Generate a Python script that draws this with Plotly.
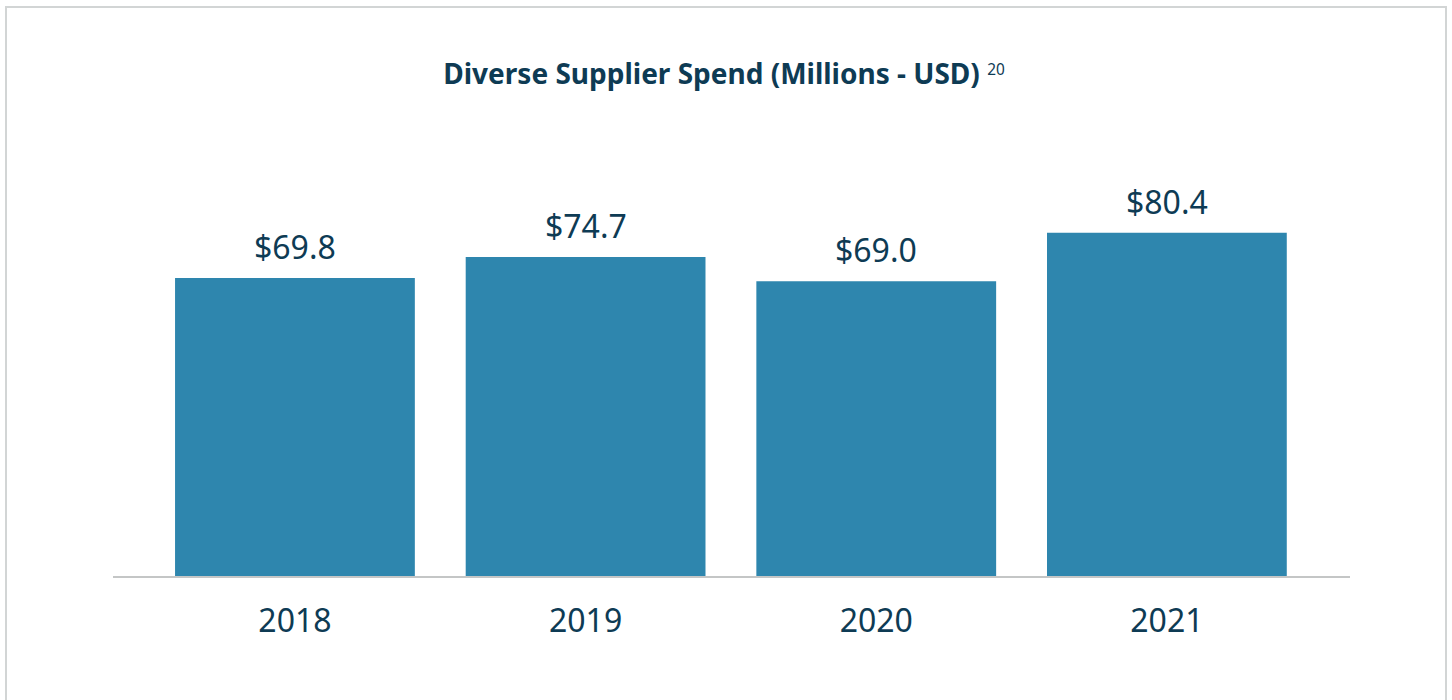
import plotly.graph_objects as go

years = ["2018", "2019", "2020", "2021"]
spend = [69.8, 74.7, 69.0, 80.4]
labels = ["$69.8", "$74.7", "$69.0", "$80.4"]

TEXT = "#0e3b54"
BAR = "#2e86ae"
FONT = "Noto Sans"

W, H = 1452, 700
L, R, T, B = 113, 102, 100, 124

fig = go.Figure()
fig.add_trace(go.Bar(
    x=years, y=spend,
    marker=dict(color=BAR, line=dict(width=0)),
    hoverinfo="skip",
))

for i, (v, lab) in enumerate(zip(spend, labels)):
    fig.add_annotation(x=i, y=v, text=lab, showarrow=False,
                       xanchor="center", yanchor="bottom", yshift=8,
                       font=dict(family=FONT, size=32, color=TEXT))

pw = W - L - R
def px_to_paper_x(p):
    return (p - L) / pw
ph = H - T - B
def px_to_paper_y(p):
    return (H - B - p) / ph

fig.add_shape(type="rect", xref="paper", yref="paper",
              x0=px_to_paper_x(6), x1=px_to_paper_x(1446),
              y0=px_to_paper_y(720), y1=px_to_paper_y(7),
              line=dict(color="#d2d5d5", width=2), fillcolor="rgba(0,0,0,0)",
              layer="below")

fig.update_layout(
    width=W, height=H,
    margin=dict(l=L, r=R, t=T, b=B, pad=0),
    paper_bgcolor="white", plot_bgcolor="white",
    bargap=0.175,
    showlegend=False,
    title=dict(
        text="<b>Diverse Supplier Spend (Millions - USD)</b> <span style='font-size:22px'><sup>20</sup></span>",
        x=724 / W, xanchor="center", y=1 - 74 / H, yanchor="middle",
        xref="container", yref="container",
        font=dict(family=FONT, size=28, color=TEXT),
    ),
    xaxis=dict(
        type="category",
        range=[-0.626, 3.63], showgrid=False, zeroline=False,
        showline=True, linecolor="#c4c6c6", linewidth=2,
        ticks="", ticklabelstandoff=16,
        tickfont=dict(family=FONT, size=32, color=TEXT),
        fixedrange=True,
    ),
    yaxis=dict(
        range=[0, ph / 4.27], visible=False, showgrid=False, zeroline=False,
        fixedrange=True,
    ),
)

fig.write_html("out.html", config={"displayModeBar": False},
               post_script="document.body.style.margin='0';document.body.style.overflow='hidden';")
